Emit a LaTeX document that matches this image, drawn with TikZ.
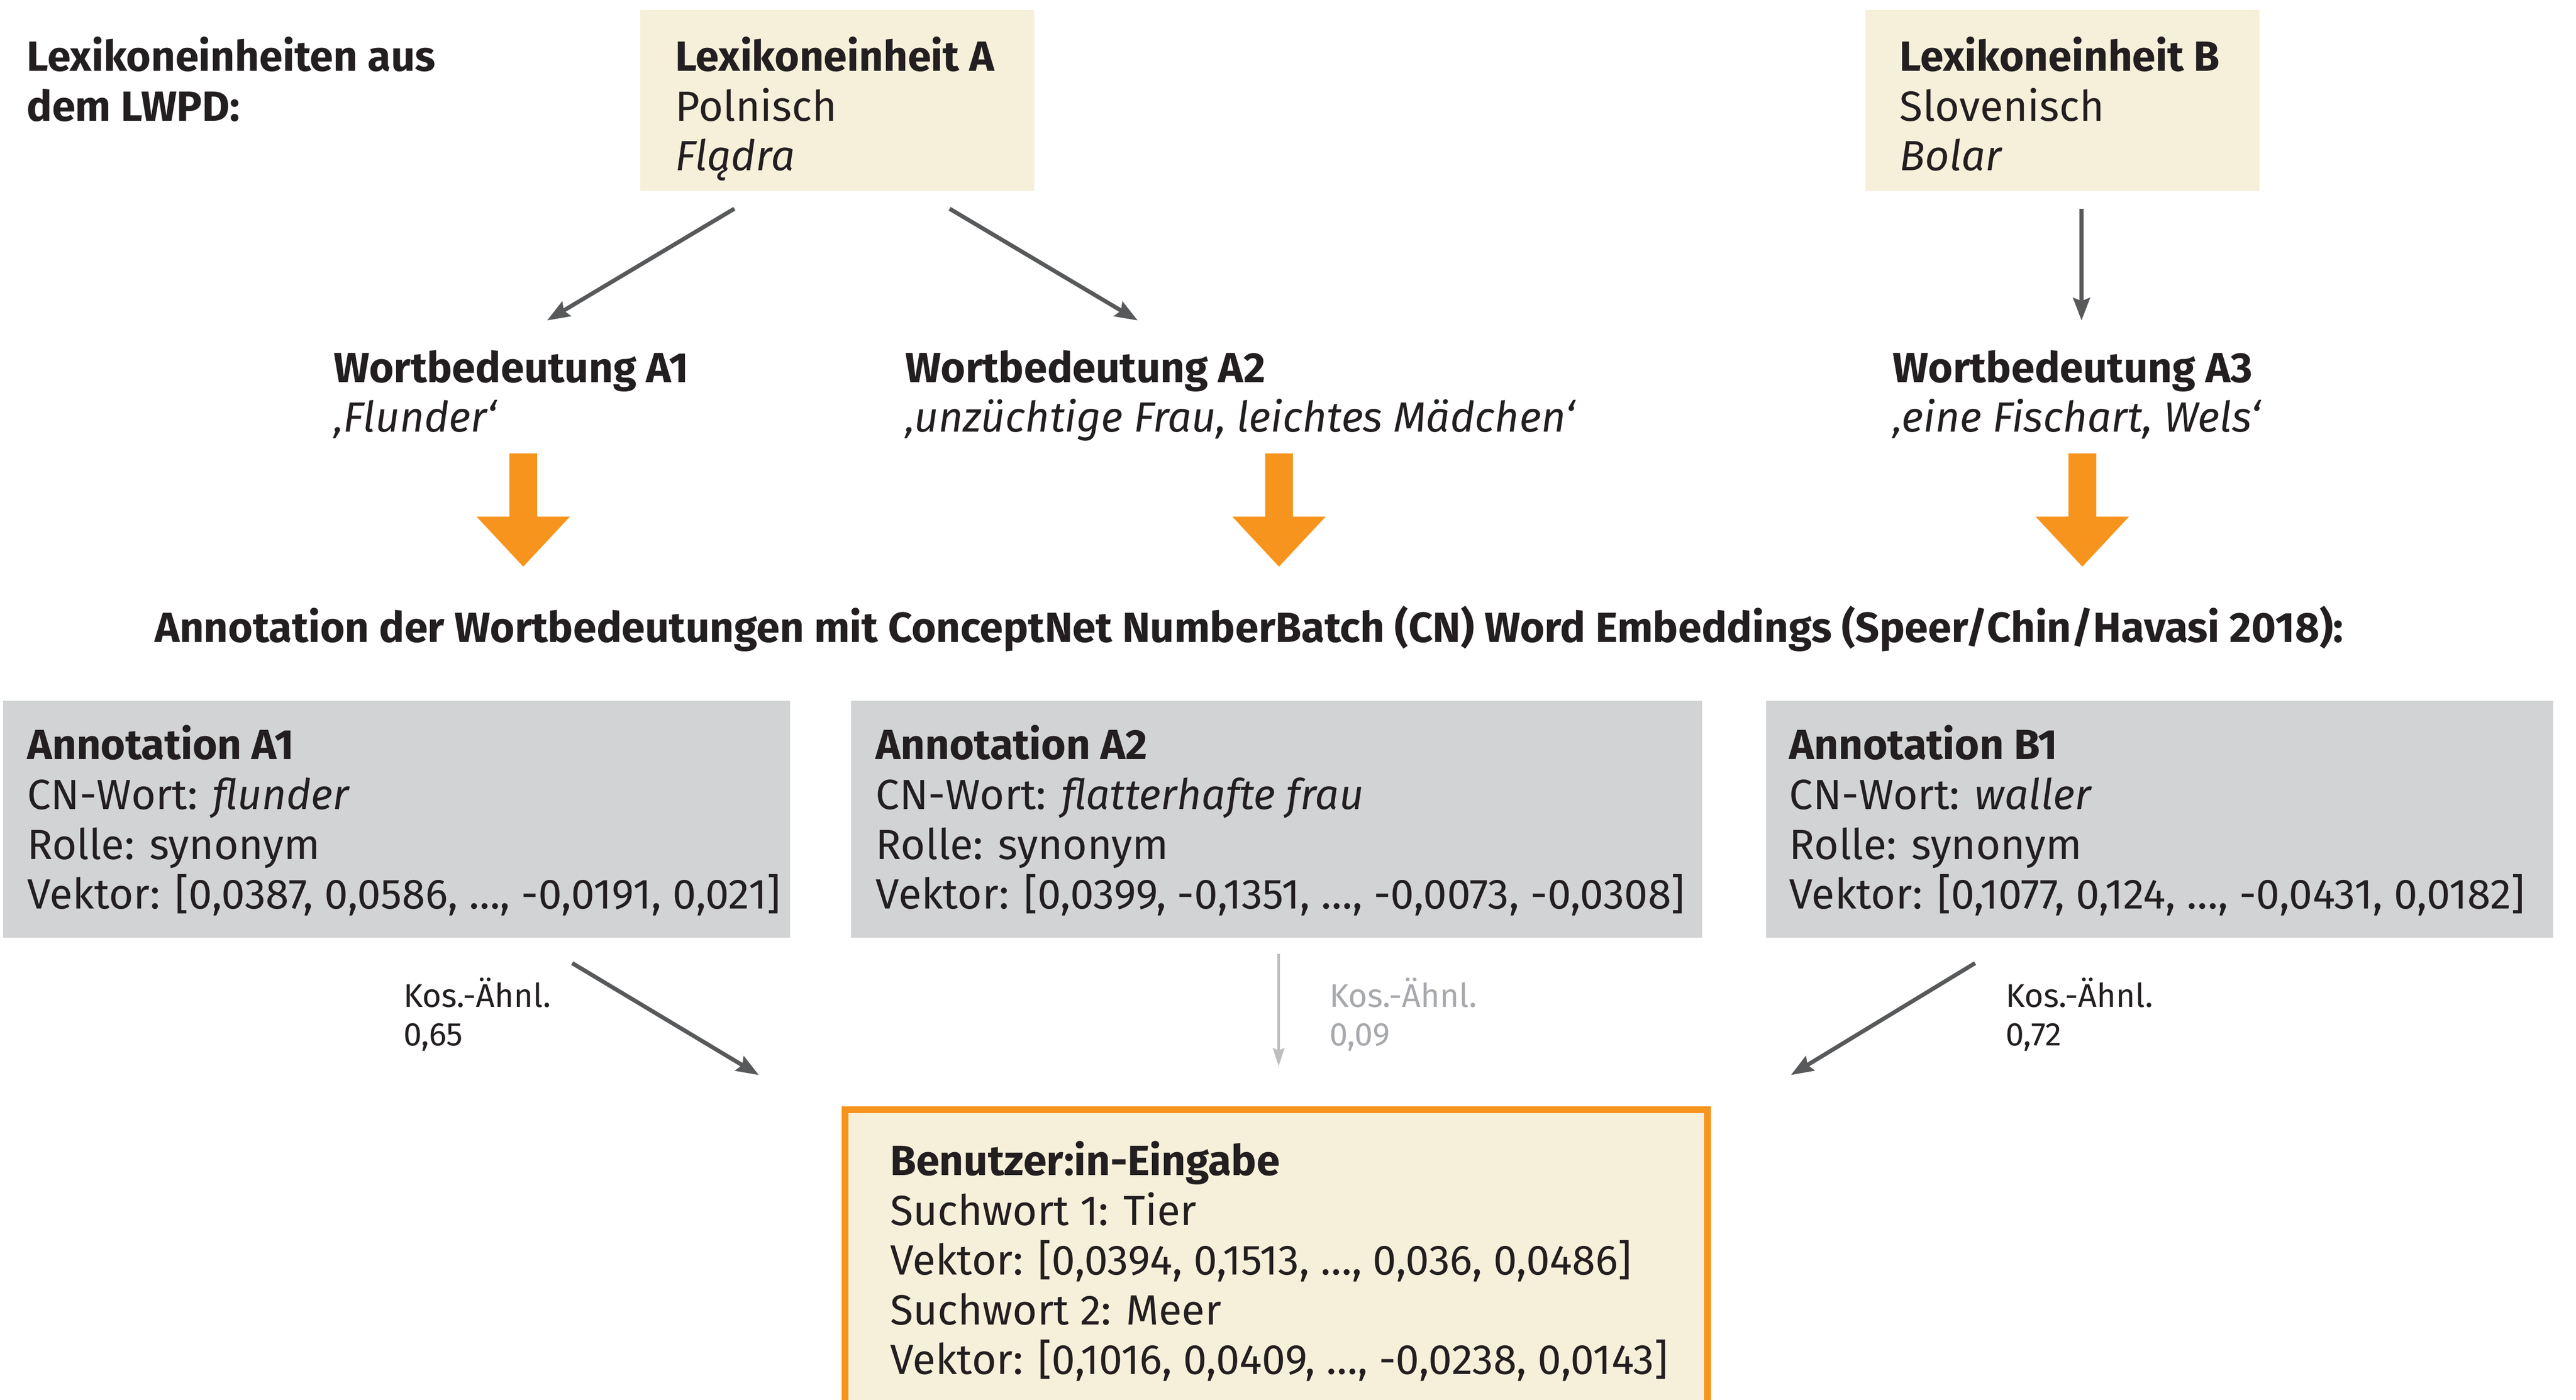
\documentclass[tikz,border=0pt]{standalone}
\usepackage{fontspec}
\setmainfont{Fira Sans}
\usetikzlibrary{arrows.meta}
\definecolor{cream}{HTML}{F6F0DA}
\definecolor{boxgray}{HTML}{D1D3D4}
\definecolor{orng}{HTML}{F7941D}
\definecolor{darkarr}{HTML}{58595B}
\definecolor{lightarr}{HTML}{BCBEC0}
\definecolor{txt}{HTML}{231F20}
\definecolor{lighttxt}{HTML}{A7A9AC}
\newcommand\fzn{\fontsize{25.7}{30.3}\selectfont}
\newcommand\fzs{\fontsize{20}{23.7}\selectfont}
\newcommand\orarrow[1]{%
  \fill[orng] (#1-8.45,275.9) -- (#1+8.45,275.9) -- (#1+8.45,314.4) -- (#1+28.4,314.4)
    -- (#1,344.8) -- (#1-28.4,314.4) -- (#1-8.45,314.4) -- cycle;}
\begin{document}
\begin{tikzpicture}[x=1pt,y=-1pt,
  txtnode/.style={inner sep=0pt, anchor=north west, align=left, text=txt, font=\fzn},
  smalltxt/.style={inner sep=0pt, anchor=north west, align=left, text=txt, font=\fzs},
  fillbox/.style={inner sep=0pt, outer sep=0pt, anchor=north west, draw=none},
  lexbox/.style={fillbox, fill=cream, minimum width=239.8pt, minimum height=110.2pt},
  annbox/.style={fillbox, fill=boxgray, minimum height=144.2pt},
  darrow/.style={draw=darkarr, line width=2.5pt, -{Stealth[length=13.7pt,width=10.2pt,inset=1.9pt]}},
  larrow/.style={draw=lightarr, line width=1.6pt, -{Stealth[length=11pt,width=7pt,inset=1.5pt]}}]
\clip (0,0) rectangle (1568,851.9);
\useasboundingbox (0,0) rectangle (1568,851.9);

% heading left
\node[txtnode] (head) at (16.1,21.89) {\strut\textbf{Lexikoneinheiten aus}\\\textbf{dem LWPD:}};

% lexicon boxes
\node[lexbox] (lexA) at (389.7,6) {};
\node[txtnode] (lexAt) at (410.8,21.89) {\strut\textbf{Lexikoneinheit A}\\Polnisch\\\textit{Flądra}};
\node[lexbox] (lexB) at (1135.5,6) {};
\node[txtnode] (lexBt) at (1156.2,21.89) {\strut\textbf{Lexikoneinheit B}\\Slovenisch\\\textit{Bolar}};

% word meanings
\node[txtnode] (wA1) at (203,211.19) {\strut\textbf{Wortbedeutung A1}\\\textit{‚Flunder‘}};
\node[txtnode] (wA2) at (551,211.19) {\strut\textbf{Wortbedeutung A2}\\\textit{‚unzüchtige Frau, leichtes Mädchen‘}};
\node[txtnode] (wA3) at (1152,211.19) {\strut\textbf{Wortbedeutung A3}\\\textit{‚eine Fischart, Wels‘}};

% top arrows
\coordinate (a1s) at (447,127);   \coordinate (a1e) at (333,195);
\coordinate (a2s) at (578,127);   \coordinate (a2e) at (692.5,195);
\coordinate (a3s) at (1267,127);  \coordinate (a3e) at (1267,195);
\draw[darrow] (a1s) -- (a1e);
\draw[darrow] (a2s) -- (a2e);
\draw[darrow] (a3s) -- (a3e);

% orange block arrows
\orarrow{318.5}
\orarrow{778.5}
\orarrow{1267.5}

% title
\node[txtnode] (title) at (94,368.49) {\strut\textbf{Annotation der Wortbedeutungen mit ConceptNet NumberBatch (CN) Word Embeddings (Speer/Chin/Havasi 2018):}};

% annotation boxes
\node[annbox, minimum width=479pt] (ann1) at (1.9,426.3) {};
\node[annbox, minimum width=518pt] (ann2) at (518,426.3) {};
\node[annbox, minimum width=479pt] (ann3) at (1075,426.3) {};
\node[txtnode] (ann1t) at (16.4,440.79) {\strut\textbf{Annotation A1}\\CN-Wort: \textit{flunder}\\Rolle: synonym\\Vektor: [0,0387, 0,0586, …, -0,0191, 0,021]};
\node[txtnode] (ann2t) at (533,440.79) {\strut\textbf{Annotation A2}\\CN-Wort: \textit{flatterhafte frau}\\Rolle: synonym\\Vektor: [0,0399, -0,1351, …, -0,0073, -0,0308]};
\node[txtnode] (ann3t) at (1089,440.79) {\strut\textbf{Annotation B1}\\CN-Wort: \textit{waller}\\Rolle: synonym\\Vektor: [0,1077, 0,124, …, -0,0431, 0,0182]};

% similarity arrows
\coordinate (b1s) at (348.3,586.1);  \coordinate (b1e) at (461.9,654.2);
\coordinate (b2s) at (778.3,580.5);  \coordinate (b2e) at (778.3,648.8);
\coordinate (b3s) at (1202.2,586.1); \coordinate (b3e) at (1090.1,654.2);
\draw[darrow] (b1s) -- (b1e);
\draw[larrow] (b2s) -- (b2e);
\draw[darrow] (b3s) -- (b3e);

\node[smalltxt] (k1) at (245.4,594.71) {\strut Kos.-Ähnl.\\0,65};
\node[smalltxt, text=lighttxt] (k2) at (809,594.71) {\strut Kos.-Ähnl.\\0,09};
\node[smalltxt] (k3) at (1220.6,594.71) {\strut Kos.-Ähnl.\\0,72};

% user input box
\node[fillbox, fill=cream, draw=orng, line width=4.2pt, minimum width=525.1pt, minimum height=240pt] (user) at (514.3,675.4) {};
\node[txtnode] (usert) at (541.6,693.79) {\strut\textbf{Benutzer:in-Eingabe}\\Suchwort 1: Tier\\Vektor: [0,0394, 0,1513, …, 0,036, 0,0486]\\Suchwort 2: Meer\\Vektor: [0,1016, 0,0409, …, -0,0238, 0,0143]};
\end{tikzpicture}
\end{document}
